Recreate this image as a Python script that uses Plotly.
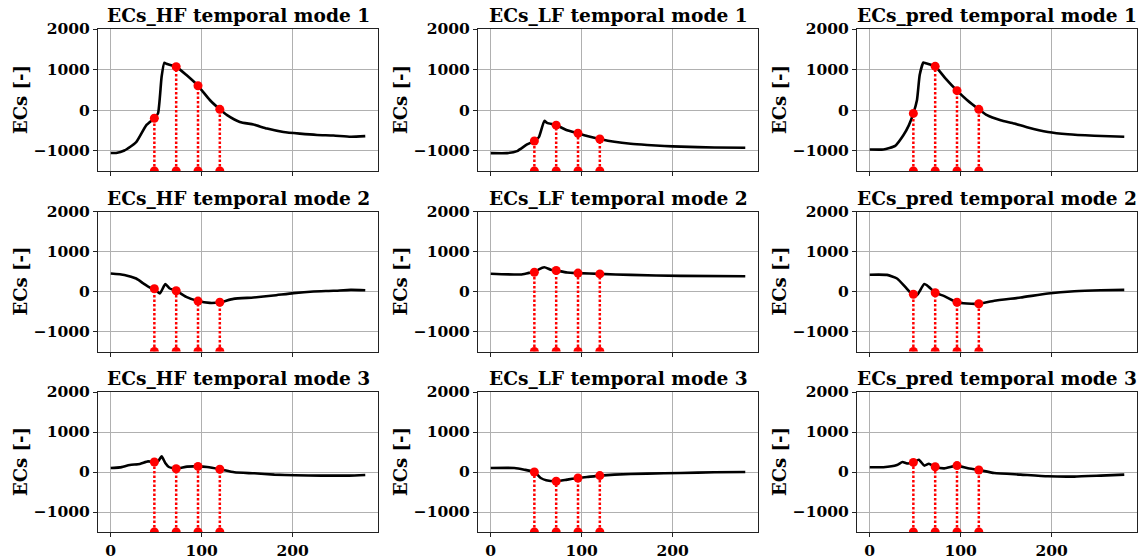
import plotly.graph_objects as go

# Snapshot times marked on every temporal mode
SNAP_T = [48, 72, 96, 120]

# Temporal coefficients, one curve per panel (time step, value)
hf1_t = [0, 6, 15, 28, 39, 48, 52, 56, 59, 61, 72, 83, 96, 109, 120, 128, 142, 157, 172, 190, 208, 227, 245, 264, 280]
hf1_v = [-1055, -1055, -995, -790, -375, -200, -80, 830, 1170, 1145, 1070, 870, 600, 250, 20, -125, -290, -355, -455, -540, -580, -612, -625, -655, -640]

lf1_t = [0, 18, 29, 40, 48, 53, 59, 62, 72, 84, 96, 106, 120, 136, 154, 172, 191, 209, 246, 280]
lf1_v = [-1060, -1060, -1010, -845, -760, -665, -265, -315, -370, -495, -570, -635, -710, -780, -830, -860, -885, -900, -920, -928]

pr1_t = [0, 15, 28, 37, 43, 48, 52, 55, 59, 61, 72, 83, 96, 107, 120, 129, 144, 159, 174, 196, 218, 247, 280]
pr1_v = [-970, -970, -880, -620, -375, -80, 250, 870, 1175, 1160, 1080, 790, 480, 250, 20, -125, -250, -330, -430, -540, -595, -630, -655]

hf2_t = [0, 15, 28, 36, 43, 48, 54, 60, 65, 72, 83, 96, 109, 120, 135, 157, 179, 201, 223, 245, 264, 280]
hf2_v = [450, 415, 325, 200, 100, 70, -50, 185, 75, 20, -135, -240, -285, -270, -185, -150, -100, -40, 0, 17, 40, 33]

lf2_t = [0, 33, 42, 48, 53, 59, 66, 72, 84, 96, 120, 154, 209, 280]
lf2_v = [445, 425, 465, 480, 555, 605, 545, 525, 475, 460, 440, 415, 390, 382]

pr2_t = [0, 19, 30, 39, 44, 48, 52, 60, 65, 72, 82, 96, 107, 120, 137, 166, 196, 225, 254, 280]
pr2_v = [420, 415, 325, 115, -10, -70, -90, 185, 115, -30, -115, -270, -300, -305, -230, -150, -50, 8, 33, 40]

hf3_t = [0, 10, 21, 32, 41, 48, 52, 56, 60, 64, 72, 84, 96, 106, 120, 136, 158, 180, 203, 232, 262, 280]
hf3_v = [100, 115, 175, 200, 265, 250, 265, 390, 225, 125, 80, 135, 140, 125, 70, -8, -33, -65, -83, -90, -90, -75]

lf3_t = [0, 26, 37, 48, 55, 61, 72, 84, 96, 106, 120, 136, 172, 209, 246, 280]
lf3_v = [100, 100, 58, 0, -150, -205, -230, -190, -150, -125, -90, -65, -40, -25, -8, 0]

pr3_t = [0, 15, 30, 36, 41, 48, 54, 60, 65, 72, 82, 96, 107, 120, 137, 166, 196, 225, 254, 280]
pr3_v = [120, 120, 175, 250, 215, 240, 305, 160, 205, 130, 90, 160, 100, 50, -25, -65, -108, -115, -90, -65]

TITLES = [
    "ECs_HF temporal mode 1", "ECs_LF temporal mode 1", "ECs_pred temporal mode 1",
    "ECs_HF temporal mode 2", "ECs_LF temporal mode 2", "ECs_pred temporal mode 2",
    "ECs_HF temporal mode 3", "ECs_LF temporal mode 3", "ECs_pred temporal mode 3",
]
CURVES = [
    (hf1_t, hf1_v), (lf1_t, lf1_v), (pr1_t, pr1_v),
    (hf2_t, hf2_v), (lf2_t, lf2_v), (pr2_t, pr2_v),
    (hf3_t, hf3_v), (lf3_t, lf3_v), (pr3_t, pr3_v),
]
Y_LABEL = "ECs [-]"
Y_TICKS = [-1000, 0, 1000, 2000]
X_TICKS = [0, 100, 200]
Y_RANGE = [-1500, 2000]
X_RANGE = [-14, 294]

W, H = 1143, 560
FONT = "DejaVu Serif"
COL_PX = [(98, 378), (478, 758), (857, 1137)]
ROW_PX = [(29, 171), (211.5, 351.5), (392, 532)]
YLABEL_PX = [20, 400, 779]

fig = go.Figure()
layout = {}

for k, ((ts, vs), title) in enumerate(zip(CURVES, TITLES)):
    r, c = divmod(k, 3)
    sfx = "" if k == 0 else str(k + 1)
    xa, ya = "x" + sfx, "y" + sfx
    x0, x1 = COL_PX[c]
    y0, y1 = ROW_PX[r]
    xdom = [x0 / W, x1 / W]
    ydom = [1 - y1 / H, 1 - y0 / H]

    fig.add_trace(go.Scatter(
        x=ts, y=vs, mode="lines", xaxis=xa, yaxis=ya,
        line=dict(color="black", width=2.6, shape="spline", smoothing=0.5),
        showlegend=False, hoverinfo="skip",
    ))

    # stems from the axis floor up to the coefficient at each snapshot
    sx, sy = [], []
    for t in SNAP_T:
        v = vs[ts.index(t)]
        sx += [t, t, None]
        sy += [Y_RANGE[0], v, None]
    fig.add_trace(go.Scatter(
        x=sx, y=sy, mode="lines+markers", xaxis=xa, yaxis=ya,
        line=dict(color="#ff0000", width=2.5, dash="2.5px,2px"),
        marker=dict(color="#ff0000", size=9),
        cliponaxis=True, showlegend=False, hoverinfo="skip",
    ))

    common = dict(
        showgrid=True, gridcolor="#b0b0b0", gridwidth=1,
        showline=True, linecolor="#222222", linewidth=1, mirror=True,
        ticks="outside", ticklen=4, tickcolor="#222222", tickwidth=1,
        zeroline=False, automargin=False,
        tickfont=dict(family=FONT, size=15.5, color="black", weight="bold"),
    )
    layout["xaxis" + sfx] = dict(
        domain=xdom, anchor=ya, range=X_RANGE, tickvals=X_TICKS,
        showticklabels=(r == 2), **common,
    )
    layout["yaxis" + sfx] = dict(
        domain=ydom, anchor=xa, range=Y_RANGE, tickvals=Y_TICKS, **common,
    )

    fig.add_annotation(
        text=title, xref="paper", yref="paper",
        x=(xdom[0] + xdom[1]) / 2, y=ydom[1], xanchor="center", yanchor="bottom",
        yshift=1, showarrow=False,
        font=dict(family=FONT, size=18.6, color="black", weight="bold"),
    )
    fig.add_annotation(
        text=Y_LABEL, xref="paper", yref="paper",
        x=YLABEL_PX[c] / W, y=(ydom[0] + ydom[1]) / 2, xanchor="center", yanchor="middle",
        textangle=-90, showarrow=False,
        font=dict(family=FONT, size=18, color="black", weight="bold"),
    )

fig.update_layout(
    width=W, height=H, margin=dict(l=0, r=0, t=0, b=0, autoexpand=False),
    paper_bgcolor="white", plot_bgcolor="white", **layout,
)

fig.write_html("out.html")
